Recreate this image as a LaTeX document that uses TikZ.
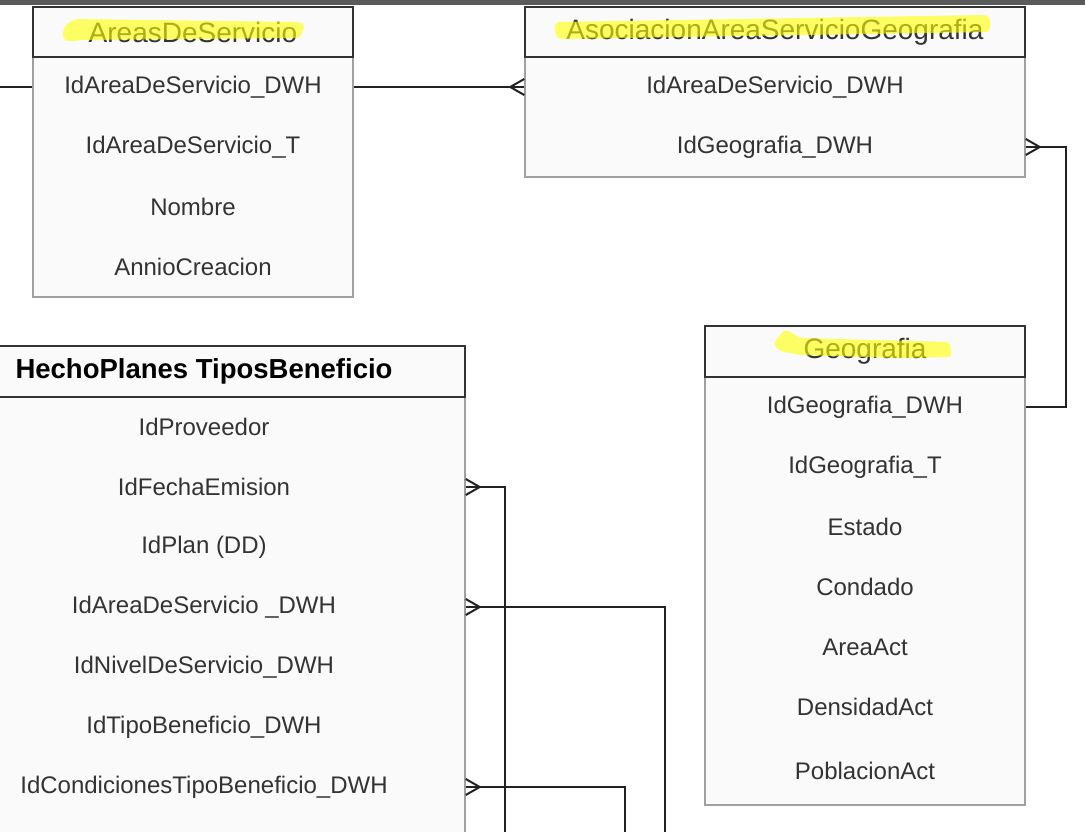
\documentclass[tikz,border=0pt]{standalone}
\usepackage{fontspec}
\setmainfont{Liberation Sans}
\definecolor{hdline}{HTML}{333333}
\definecolor{bodyline}{HTML}{A0A0A0}
\definecolor{boxfill}{HTML}{FAFAFA}
\definecolor{txt}{HTML}{333333}
\definecolor{relline}{HTML}{222222}
\definecolor{topbar}{HTML}{5A5A5A}
\definecolor{hlyellow}{HTML}{FFFF00}
\tikzset{
  tblhead/.style={draw=hdline, fill=boxfill, line width=1.5pt, inner sep=0pt, text=txt, font=\fontsize{28}{32}\selectfont},
  tblbody/.style={draw=bodyline, fill=boxfill, line width=1.5pt, inner sep=0pt},
  field/.style={text=txt, font=\fontsize{24}{28}\selectfont, inner sep=0pt},
  rel/.style={draw=relline, line width=2pt},
  crowfoot/.pic={\draw[rel] (0,-8) -- (14,0) -- (0,8);},
  hilite/.style={fill=hlyellow, opacity=0.6, draw=none, rounded corners=4pt}
}
\begin{document}
\begin{tikzpicture}[x=1pt, y=-1pt]
    \useasboundingbox (0,0) rectangle (1085,832);
    \clip (0,0) rectangle (1085,832);
    \fill[white] (0,0) rectangle (1085,832);
    \fill[topbar] (0,0) rectangle (1085,5.5);

    \node[tblbody, minimum width=320, minimum height=240] (areas) at (193,177) {};
    \node[tblhead, minimum width=320, minimum height=50] (areasH) at (193,32) {AreasDeServicio};
    \node[field] (areas1) at (193,87) {IdAreaDeServicio\_DWH};
    \node[field] (areas2) at (193,147) {IdAreaDeServicio\_T};
    \node[field] (areas3) at (193,207) {Nombre};
    \node[field] (areas4) at (193,267) {AnnioCreacion};

    \node[tblbody, minimum width=500, minimum height=120] (asoc) at (775,117) {};
    \node[tblhead, minimum width=500, minimum height=50] (asocH) at (775,32) {AsociacionAreaServicioGeografia};
    \node[field] (asoc1) at (775,87) {IdAreaDeServicio\_DWH};
    \node[field] (asoc2) at (775,147) {IdGeografia\_DWH};

    \node[tblbody, minimum width=320, minimum height=428] (geo) at (865,591) {};
    \node[tblhead, minimum width=320, minimum height=51] (geoH) at (865,351.5) {Geografia};
    \node[field] (geo1) at (865,407) {IdGeografia\_DWH};
    \node[field] (geo2) at (865,467) {IdGeografia\_T};
    \node[field] (geo3) at (865,527) {Estado};
    \node[field] (geo4) at (865,587) {Condado};
    \node[field] (geo5) at (865,647) {AreaAct};
    \node[field] (geo6) at (865,707) {DensidadAct};
    \node[field] (geo7) at (865,771) {PoblacionAct};

    \node[tblbody, minimum width=522, minimum height=503] (hecho) at (204,648.5) {};
    \node[tblhead, text=black, font=\fontsize{27.5}{32}\selectfont\bfseries, minimum width=522, minimum height=51] (hechoH) at (204,371.5) {HechoPlanes TiposBeneficio};
    \node[field] (hecho1) at (204,427) {IdProveedor};
    \node[field] (hecho2) at (204,487) {IdFechaEmision};
    \node[field] (hecho3) at (204,547) {IdPlan (DD)};
    \node[field] (hecho4) at (204,607) {IdAreaDeServicio \_DWH};
    \node[field] (hecho5) at (204,667) {IdNivelDeServicio\_DWH};
    \node[field] (hecho6) at (204,727) {IdTipoBeneficio\_DWH};
    \node[field] (hecho7) at (204,787) {IdCondicionesTipoBeneficio\_DWH};

    \fill[hilite] (62,37) -- (65,25) -- (75,19) -- (300,22) -- (305,25) -- (300,38) -- (80,40) -- (68,42) -- cycle;
    \fill[hilite] (555,22) -- (985,15) -- (990,17) -- (990,32) -- (560,39) -- (555,36) -- cycle;
    \fill[hilite] (773,344) -- (785,329) -- (800,338) -- (950,342) -- (952,357) -- (900,358) -- (800,355) -- (780,351) -- cycle;

    \coordinate (offLeft) at (0,87);
    \coordinate (fechaEnd) at (505,850);
    \coordinate (areaEnd) at (665,850);
    \coordinate (condEnd) at (625,850);

    \draw[rel] (offLeft) -- (areas1 -| areas.west);
    \draw[rel] (areas1 -| areas.east) -- (asoc1 -| asoc.west);
    \pic[xscale=-1] at (asoc1 -| asoc.west) {crowfoot};
    \draw[rel] (asoc2 -| asoc.east) -- ++(40,0) |- (geo1 -| geo.east);
    \pic at (asoc2 -| asoc.east) {crowfoot};
    \draw[rel] (hecho2 -| hecho.east) -| (fechaEnd);
    \pic at (hecho2 -| hecho.east) {crowfoot};
    \draw[rel] (hecho4 -| hecho.east) -| (areaEnd);
    \pic at (hecho4 -| hecho.east) {crowfoot};
    \draw[rel] (hecho7 -| hecho.east) -| (condEnd);
    \pic at (hecho7 -| hecho.east) {crowfoot};
\end{tikzpicture}
\end{document}
